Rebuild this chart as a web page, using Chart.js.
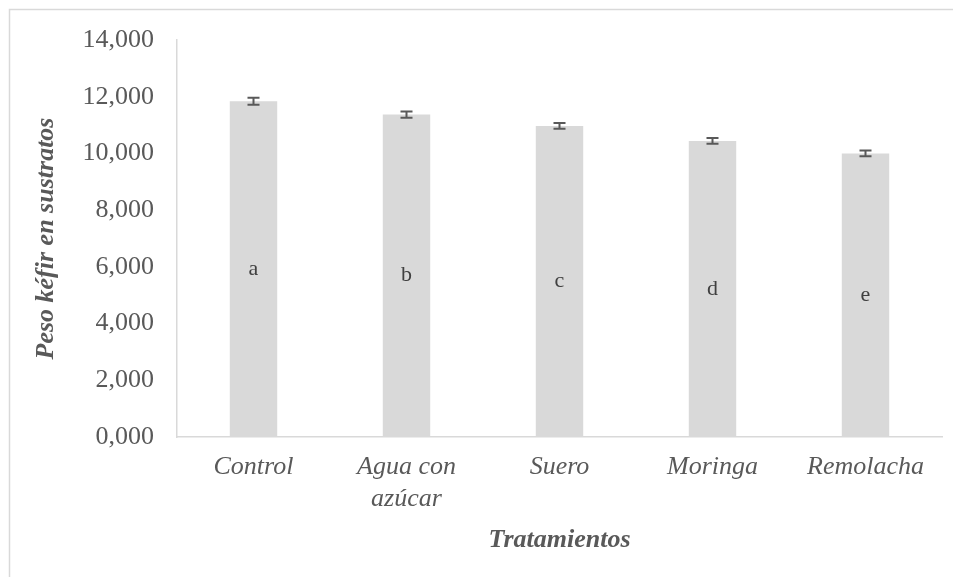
<!DOCTYPE html>
<html>
<head>
<meta charset="utf-8">
<script src="https://cdn.jsdelivr.net/npm/chart.js@4/dist/chart.umd.min.js"></script>
<style>
  body { margin: 0; background: #fff; }
  #wrap { width: 953px; height: 577px; }
</style>
</head>
<body>
<div id="wrap"><canvas id="kefirChart"></canvas></div>
<script>
// datos
const tratamientos = ['Control', ['Agua con', 'azúcar'], 'Suero', 'Moringa', 'Remolacha'];
const pesoKefir = [11.84, 11.37, 10.97, 10.44, 10.00];
const errorPeso = [0.12, 0.11, 0.10, 0.10, 0.10];
const letras = ['a', 'b', 'c', 'd', 'e'];
const yTicks = [0, 2, 4, 6, 8, 10, 12, 14];

const gris = '#595959';

// marco del grafico (solo borde izquierdo y superior visibles)
const marco = {
    id: 'marco',
    beforeDraw(chart) {
        const ctx = chart.ctx;
        ctx.save();
        ctx.strokeStyle = '#d9d9d9';
        ctx.lineWidth = 1.5;
        ctx.beginPath();
        ctx.moveTo(9.5, chart.height);
        ctx.lineTo(9.5, 9.5);
        ctx.lineTo(chart.width, 9.5);
        ctx.stroke();
        ctx.restore();
    }
};

// barras de error y letras de significancia
const extras = {
    id: 'extras',
    afterDatasetsDraw(chart) {
        const ctx = chart.ctx;
        const y = chart.scales.y;
        const meta = chart.getDatasetMeta(0);
        ctx.save();
        meta.data.forEach((bar, i) => {
            const x = bar.x;
            const top = y.getPixelForValue(pesoKefir[i] + errorPeso[i]);
            const bot = y.getPixelForValue(pesoKefir[i] - errorPeso[i]);
            ctx.strokeStyle = gris;
            ctx.lineWidth = 2;
            ctx.beginPath();
            ctx.moveTo(x, top); ctx.lineTo(x, bot);
            ctx.moveTo(x - 6, top); ctx.lineTo(x + 6, top);
            ctx.moveTo(x - 6, bot); ctx.lineTo(x + 6, bot);
            ctx.stroke();

            const mid = (bar.y + bar.base) / 2;
            ctx.fillStyle = '#404040';
            ctx.font = '22px "Liberation Serif"';
            ctx.textAlign = 'center';
            ctx.textBaseline = 'middle';
            ctx.fillText(letras[i], x, mid);
        });
        ctx.restore();
    }
};

const ctx1 = document.getElementById('kefirChart').getContext('2d');
new Chart(ctx1, {
    type: 'bar',
    data: {
        labels: tratamientos,
        datasets: [{
            data: pesoKefir,
            backgroundColor: '#d9d9d9',
            barPercentage: 0.31,
            categoryPercentage: 1
        }]
    },
    options: {
        responsive: true,
        maintainAspectRatio: false,
        animation: false,
        layout: { padding: { left: 0, top: 40, right: 11, bottom: 21 } },
        plugins: {
            legend: { display: false },
            tooltip: { enabled: false }
        },
        scales: {
            x: {
                grid: { display: true, drawOnChartArea: false, drawTicks: false },
                border: { color: '#d9d9d9', width: 1.5 },
                ticks: {
                    color: gris,
                    padding: 15,
                    maxRotation: 0,
                    font: { family: 'Liberation Serif', size: 26, style: 'italic' }
                },
                title: {
                    display: true,
                    text: 'Tratamientos',
                    color: gris,
                    font: { family: 'Liberation Serif', size: 26, style: 'italic', weight: 'bold' },
                    padding: { top: 10, bottom: 0 }
                },
                afterFit(scale) { scale.height = 119; }
            },
            y: {
                min: 0,
                max: 14,
                grid: { display: true, drawOnChartArea: false, drawTicks: false },
                border: { color: '#d9d9d9', width: 1.5 },
                afterBuildTicks(scale) {
                    scale.ticks = yTicks.map(v => ({ value: v }));
                },
                ticks: {
                    color: gris,
                    padding: 23,
                    font: { family: 'Liberation Serif', size: 26 },
                    callback: v => v.toFixed(3).replace('.', ',')
                },
                title: {
                    display: true,
                    text: 'Peso kéfir en sustratos',
                    color: gris,
                    font: { family: 'Liberation Serif', size: 26, style: 'italic', weight: 'bold' },
                    padding: { top: 31, bottom: 0 }
                },
                afterFit(scale) { scale.width = 177; }
            }
        }
    },
    plugins: [marco, extras]
});
</script>
</body>
</html>
